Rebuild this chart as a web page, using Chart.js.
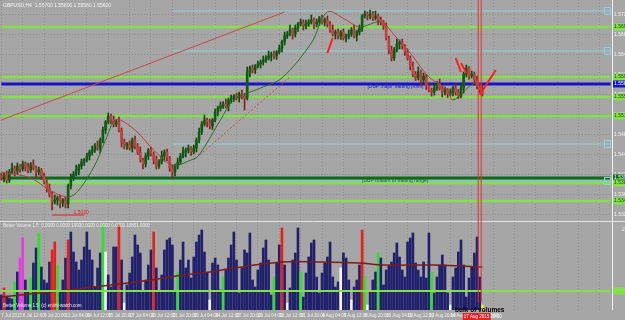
<!DOCTYPE html>
<html>
<head>
<meta charset="utf-8">
<script src="https://cdn.jsdelivr.net/npm/chart.js@4.4.1/dist/chart.umd.min.js"></script>
<style>
html, body { margin: 0; padding: 0; background: #a6a6a6; width: 625px; height: 320px; overflow: hidden; }
canvas { display: block; }
</style>
</head>
<body>
<canvas id="priceChart" width="625" height="221"></canvas>
<canvas id="volumeChart" width="625" height="99"></canvas>
<script>
// GBPUSD H4, 7 Jul - 17 Aug 2015, with Better Volume below
const SLOTS = 229;
const cursorBar = 179;

const tickLabels = ['7 Jul 2015', '8 Jul 12:00', '9 Jul 20:00', '13 Jul 04:00', '14 Jul 12:00', '15 Jul 20:00',
  '17 Jul 04:00', '20 Jul 12:00', '21 Jul 20:00', '23 Jul 04:00', '24 Jul 12:00', '27 Jul 20:00',
  '29 Jul 04:00', '30 Jul 12:00', '31 Jul 20:00', '4 Aug 04:00', '5 Aug 12:00', '6 Aug 20:00',
  '10 Aug 04:00', '11 Aug 12:00', '12 Aug 20:00', '14 Aug 04:00', '17 Aug 12:00'];
const priceTicks = [1.532, 1.536, 1.540, 1.544, 1.548, 1.552, 1.556, 1.560, 1.564, 1.568, 1.572];
const volumeTicks = [20000];

const opens = [
  1.5398,1.5394,1.5400,1.5390,1.5406,1.5414,1.5408,1.5418,1.5412,1.5422,
  1.5416,1.5410,1.5420,1.5414,1.5406,1.5410,1.5398,1.5386,1.5374,1.5362,
  1.5346,1.5350,1.5354,1.5344,1.5350,1.5342,1.5378,1.5394,1.5402,1.5410,
  1.5418,1.5426,1.5430,1.5438,1.5446,1.5450,1.5458,1.5454,1.5470,1.5490,
  1.5506,1.5518,1.5510,1.5502,1.5506,1.5490,1.5466,1.5458,1.5462,1.5454,
  1.5470,1.5458,1.5446,1.5430,1.5422,1.5438,1.5450,1.5442,1.5430,1.5418,
  1.5426,1.5438,1.5446,1.5434,1.5414,1.5406,1.5418,1.5426,1.5438,1.5446,
  1.5450,1.5454,1.5446,1.5454,1.5470,1.5486,1.5502,1.5510,1.5506,1.5498,
  1.5510,1.5526,1.5534,1.5538,1.5542,1.5538,1.5550,1.5554,1.5558,1.5554,
  1.5562,1.5558,1.5554,1.5606,1.5614,1.5610,1.5618,1.5622,1.5626,1.5630,
  1.5634,1.5638,1.5642,1.5638,1.5646,1.5654,1.5666,1.5678,1.5682,1.5690,
  1.5682,1.5694,1.5702,1.5706,1.5698,1.5702,1.5706,1.5710,1.5702,1.5706,
  1.5714,1.5706,1.5710,1.5702,1.5690,1.5682,1.5686,1.5678,1.5686,1.5674,
  1.5678,1.5682,1.5690,1.5678,1.5686,1.5694,1.5718,1.5722,1.5718,1.5722,
  1.5714,1.5718,1.5710,1.5706,1.5698,1.5674,1.5650,1.5634,1.5650,1.5662,
  1.5666,1.5658,1.5646,1.5634,1.5618,1.5602,1.5594,1.5606,1.5590,1.5598,
  1.5578,1.5570,1.5566,1.5574,1.5582,1.5574,1.5566,1.5570,1.5562,1.5566,
  1.5574,1.5566,1.5558,1.5574,1.5602,1.5614,1.5598,1.5602,1.5590,1.5578,
  1.5570
];
const highs = [
  1.5404,1.5404,1.5408,1.5411,1.5424,1.5418,1.5424,1.5421,1.5428,1.5426,
  1.5424,1.5425,1.5430,1.5418,1.5416,1.5413,1.5404,1.5390,1.5382,1.5367,
  1.5360,1.5358,1.5360,1.5353,1.5356,1.5382,1.5402,1.5407,1.5420,1.5422,
  1.5432,1.5433,1.5444,1.5450,1.5458,1.5463,1.5468,1.5474,1.5496,1.5509,
  1.5524,1.5522,1.5518,1.5511,1.5516,1.5494,1.5472,1.5465,1.5468,1.5474,
  1.5478,1.5463,1.5456,1.5434,1.5444,1.5453,1.5456,1.5446,1.5438,1.5431,
  1.5448,1.5450,1.5452,1.5437,1.5420,1.5422,1.5434,1.5443,1.5456,1.5454,
  1.5460,1.5457,1.5460,1.5474,1.5494,1.5507,1.5520,1.5514,1.5512,1.5513,
  1.5532,1.5538,1.5546,1.5547,1.5552,1.5554,1.5560,1.5561,1.5564,1.5566,
  1.5570,1.5563,1.5616,1.5618,1.5620,1.5621,1.5628,1.5630,1.5638,1.5639,
  1.5648,1.5646,1.5648,1.5649,1.5660,1.5670,1.5686,1.5687,1.5700,1.5694,
  1.5700,1.5705,1.5712,1.5710,1.5710,1.5711,1.5720,1.5714,1.5712,1.5717,
  1.5720,1.5714,1.5718,1.5707,1.5700,1.5690,1.5692,1.5689,1.5692,1.5682,
  1.5690,1.5695,1.5700,1.5690,1.5700,1.5721,1.5728,1.5726,1.5730,1.5727,
  1.5728,1.5722,1.5716,1.5709,1.5704,1.5678,1.5658,1.5655,1.5672,1.5670,
  1.5672,1.5661,1.5652,1.5638,1.5626,1.5607,1.5616,1.5610,1.5604,1.5601,
  1.5584,1.5574,1.5582,1.5587,1.5592,1.5578,1.5576,1.5573,1.5572,1.5578,
  1.5582,1.5571,1.5584,1.5606,1.5620,1.5617,1.5608,1.5606,1.5598,1.5583,
  1.5580
];
const lows = [
  1.5390,1.5386,1.5384,1.5385,1.5402,1.5398,1.5402,1.5405,1.5408,1.5408,
  1.5404,1.5405,1.5410,1.5396,1.5400,1.5391,1.5382,1.5366,1.5356,1.5330,
  1.5342,1.5340,1.5334,1.5337,1.5334,1.5334,1.5372,1.5389,1.5398,1.5400,
  1.5412,1.5419,1.5426,1.5430,1.5440,1.5445,1.5450,1.5444,1.5464,1.5483,
  1.5502,1.5502,1.5496,1.5497,1.5486,1.5456,1.5452,1.5451,1.5450,1.5446,
  1.5452,1.5441,1.5426,1.5412,1.5416,1.5431,1.5438,1.5422,1.5412,1.5413,
  1.5422,1.5428,1.5428,1.5407,1.5394,1.5398,1.5412,1.5421,1.5434,1.5436,
  1.5444,1.5439,1.5442,1.5446,1.5464,1.5481,1.5498,1.5496,1.5492,1.5491,
  1.5506,1.5518,1.5528,1.5533,1.5534,1.5528,1.5544,1.5547,1.5550,1.5546,
  1.5552,1.5530,1.5550,1.5596,1.5604,1.5603,1.5614,1.5614,1.5620,1.5625,
  1.5630,1.5628,1.5632,1.5631,1.5642,1.5646,1.5660,1.5673,1.5678,1.5672,
  1.5676,1.5687,1.5698,1.5690,1.5692,1.5697,1.5702,1.5692,1.5696,1.5699,
  1.5702,1.5698,1.5696,1.5685,1.5678,1.5672,1.5672,1.5671,1.5670,1.5666,
  1.5672,1.5677,1.5674,1.5668,1.5680,1.5687,1.5714,1.5710,1.5712,1.5709,
  1.5710,1.5700,1.5700,1.5691,1.5670,1.5642,1.5628,1.5629,1.5646,1.5652,
  1.5652,1.5639,1.5630,1.5610,1.5596,1.5589,1.5590,1.5580,1.5584,1.5571,
  1.5566,1.5558,1.5560,1.5569,1.5570,1.5556,1.5560,1.5555,1.5558,1.5558,
  1.5560,1.5553,1.5554,1.5564,1.5596,1.5591,1.5594,1.5582,1.5572,1.5565,
  1.5558
];
const closes = [
  1.5394,1.5400,1.5390,1.5406,1.5414,1.5408,1.5418,1.5412,1.5422,1.5416,
  1.5410,1.5420,1.5414,1.5406,1.5410,1.5398,1.5386,1.5374,1.5362,1.5346,
  1.5350,1.5354,1.5344,1.5350,1.5342,1.5378,1.5394,1.5402,1.5410,1.5418,
  1.5426,1.5430,1.5438,1.5446,1.5450,1.5458,1.5454,1.5470,1.5490,1.5506,
  1.5518,1.5510,1.5502,1.5506,1.5490,1.5466,1.5458,1.5462,1.5454,1.5470,
  1.5458,1.5446,1.5430,1.5422,1.5438,1.5450,1.5442,1.5430,1.5418,1.5426,
  1.5438,1.5446,1.5434,1.5414,1.5406,1.5418,1.5426,1.5438,1.5446,1.5450,
  1.5454,1.5446,1.5454,1.5470,1.5486,1.5502,1.5510,1.5506,1.5498,1.5510,
  1.5526,1.5534,1.5538,1.5542,1.5538,1.5550,1.5554,1.5558,1.5554,1.5562,
  1.5558,1.5554,1.5606,1.5614,1.5610,1.5618,1.5622,1.5626,1.5630,1.5634,
  1.5638,1.5642,1.5638,1.5646,1.5654,1.5666,1.5678,1.5682,1.5690,1.5682,
  1.5694,1.5702,1.5706,1.5698,1.5702,1.5706,1.5710,1.5702,1.5706,1.5714,
  1.5706,1.5710,1.5702,1.5690,1.5682,1.5686,1.5678,1.5686,1.5674,1.5678,
  1.5682,1.5690,1.5678,1.5686,1.5694,1.5718,1.5722,1.5718,1.5722,1.5714,
  1.5718,1.5710,1.5706,1.5698,1.5674,1.5650,1.5634,1.5650,1.5662,1.5666,
  1.5658,1.5646,1.5634,1.5618,1.5602,1.5594,1.5606,1.5590,1.5598,1.5578,
  1.5570,1.5566,1.5574,1.5582,1.5574,1.5566,1.5570,1.5562,1.5566,1.5574,
  1.5566,1.5558,1.5574,1.5602,1.5614,1.5598,1.5602,1.5590,1.5578,1.5570,
  1.5562
];

const volumes = [
  3750,5500,3500,3000,2750,7000,9500,13000,18000,7500,
  4500,8000,11750,15500,19250,10750,7500,6750,12000,15000,
  17000,11250,4500,7500,13000,17500,19500,14500,12000,10000,
  12500,15750,19500,15000,12500,5750,10500,14250,21250,14500,
  8750,5750,15750,15750,21250,12500,1750,6250,9250,13250,
  18750,16250,14250,4500,7500,11250,15000,19500,10500,4500,
  8750,15000,17500,18000,16250,4500,9500,12500,17000,10500,
  12500,8000,13250,17000,18750,20000,14500,9250,2500,11750,
  13000,11250,5000,8250,10000,13000,16250,19500,12500,4250,
  10500,15000,14250,19250,7500,5750,10000,11750,15500,17500,
  12500,3750,8250,11750,16250,20500,11250,1750,5500,12500,
  14250,20500,9500,3250,9250,13250,16750,17500,8250,4250,
  9250,11750,13250,17000,8250,5750,7000,10500,14250,13000,
  7500,2500,5750,7500,11250,20000,8250,1250,4500,7500,
  9500,14250,13000,6250,10000,11000,12000,14250,16750,13250,
  10000,8250,17000,18000,19250,11750,10000,8250,12000,8000,
  19250,9500,4250,8250,11250,13750,11250,4250,1250,8250,
  10500,14500,17500,11250,3250,8000,10750,14250,18250,8250,
  1250
];
// Better Volume bar types (all other bars are normal)
const climaxBars = [1, 19, 20, 25, 44, 57, 105, 135];
const churnBars = [5, 11, 14, 21, 38, 66, 83, 102, 112, 136, 141, 161];
const climaxChurnBars = [7, 8];
const climaxDownBars = [39, 46, 78, 107, 127, 131, 137, 168];
const lowVolumeBars = [180];
const volMaBars = [0, 25, 41, 56, 68, 78, 87, 105, 118, 134, 143, 162, 180];
const volMaValues = [3250, 5000, 6250, 7500, 8750, 9500, 10500, 12000, 12000, 11750, 11250, 11250, 10750];
const volumeLevel = 4750;

const maBars = [0, 11, 18, 25, 29, 35, 39, 43, 50, 57, 64, 71, 74, 82, 87, 97, 105, 116, 122, 129, 134, 142, 147, 153, 160, 167, 169, 177, 180];
const maPrices = [1.5406, 1.5394, 1.5370, 1.5356, 1.5370, 1.5420, 1.5470, 1.5510, 1.5490, 1.5450, 1.5420, 1.5430, 1.5440, 1.5510, 1.5550,
  1.5574, 1.5594, 1.5664, 1.5726, 1.5710, 1.5696, 1.5706, 1.5680, 1.5644, 1.5596, 1.5570, 1.5550, 1.5584, 1.5578];

const levelPrices = [1.5728, 1.5696, 1.5648, 1.5596, 1.5582, 1.5556, 1.5518, 1.5462, 1.5394, 1.5388, 1.5384, 1.5348];
const levelKinds = ['cyan', 'green', 'cyan', 'green', 'blue', 'green', 'green', 'cyan', 'dark', 'cyan', 'green', 'green'];
const levelStartBars = [64, 0, 64, 0, 0, 0, 0, 64, 0, 0, 0, 0];

const trendBars = [0, 106];
const trendPrices = [1.5510, 1.5726];
const dotTrendBars = [72, 108];
const dotTrendPrices = [1.5430, 1.5596];
const strokeBars = [[122, 124], [170, 172], [172, 174], [179, 185]];
const strokePrices = [[1.5644, 1.5674], [1.5634, 1.5606], [1.5624, 1.5604], [1.5560, 1.5610]];
const lowMarkBars = [19, 31];
const lowMarkPrice = 1.5320;

const noteTexts = ['[DBP major trading point]', '[DBP bottom of trading range]', '1.5330'];
const noteBars = [137, 135, 27];
const notePrices = [1.5576, 1.5389, 1.5324];
const noteColors = ['#1a1ad0', '#0d6a12', '#e02020'];

const levelStyle = {
  green: { color: '#84e048', width: 2.5 },
  blue: { color: '#1414c8', width: 3 },
  dark: { color: '#0b6b18', width: 3 },
  cyan: { color: '#8ad6de', width: 1 }
};

const FONT = '"Liberation Sans", Arial, sans-serif';
const GRID = '#8c8c8c';
const slots = Array.from({ length: SLOTS }, (_, i) => i);

function gridX(c) { return c.index % 8 === 0 ? GRID : 'rgba(0,0,0,0)'; }
function line(points, color, width, extra) {
  return Object.assign({ type: 'line', data: points, borderColor: color, borderWidth: width,
    pointRadius: 0, fill: false, order: 5 }, extra || {});
}
function pts(bars, vals) { return bars.map((b, i) => ({ x: b, y: vals[i] })); }

const priceSets = [];
levelPrices.forEach((p, i) => {
  const st = levelStyle[levelKinds[i]];
  priceSets.push(line([{ x: levelStartBars[i], y: p }, { x: SLOTS - 1, y: p }], st.color, st.width, { order: 10 }));
});
priceSets.push(line(pts(trendBars, trendPrices), '#c84848', 1));
priceSets.push(line(pts(dotTrendBars, dotTrendPrices), '#c84848', 1, { borderDash: [2, 2] }));
strokeBars.forEach((b, i) => priceSets.push(line(pts(b, strokePrices[i]), '#ff1c1c', 2, { order: 0 })));
priceSets.push(line(pts(lowMarkBars, [lowMarkPrice, lowMarkPrice]), '#e02020', 1));
priceSets.push(line(pts(maBars, maPrices), '#2a6e2a', 1, {
  order: 0, tension: 0.35,
  segment: { borderColor: c => c.p1.parsed.y >= c.p0.parsed.y ? '#2a6e2a' : '#b83c3c' }
}));
const bull = opens.map((o, i) => closes[i] >= o);
priceSets.push({ type: 'bar', data: lows.map((l, i) => [l, highs[i]]), grouped: false, barThickness: 1, order: 2,
  backgroundColor: bull.map(b => b ? '#0a4a0a' : '#8a1e1e') });
priceSets.push({ type: 'bar', data: opens.map((o, i) => [o, closes[i]]), grouped: false, barThickness: 2, minBarLength: 1, order: 1,
  backgroundColor: bull.map(b => b ? '#0e5c12' : '#c04040') });

const priceDecor = {
  id: 'priceDecor',
  afterDatasetsDraw(chart) {
    const { ctx, chartArea: a, scales: { x, y } } = chart;
    ctx.save();
    ctx.lineWidth = 1;
    ctx.strokeStyle = '#f0f0f0';
    ctx.beginPath(); ctx.moveTo(a.right + 0.5, 0); ctx.lineTo(a.right + 0.5, chart.height); ctx.stroke();
    const vx = x.getPixelForValue(cursorBar);
    ctx.strokeStyle = '#e23030';
    [-1.5, 1.5].forEach(d => { ctx.beginPath(); ctx.moveTo(vx + d, 0); ctx.lineTo(vx + d, chart.height); ctx.stroke(); });
    // price tags on the right axis
    ctx.font = '5px ' + FONT;
    ctx.textBaseline = 'middle';
    levelPrices.forEach((p, i) => {
      const st = levelStyle[levelKinds[i]];
      const py = y.getPixelForValue(p);
      if (levelKinds[i] === 'cyan') {
        ctx.strokeStyle = st.color;
        ctx.strokeRect(a.right - 7.5, py - 3.5, 6, 7);
        return;
      }
      ctx.fillStyle = st.color;
      ctx.fillRect(a.right + 1, py - 3.5, 12, 7);
      ctx.fillStyle = levelKinds[i] === 'green' ? '#1a3a1a' : '#ffffff';
      ctx.fillText(p.toFixed(4), a.right + 2, py);
    });
    noteTexts.forEach((t, i) => {
      ctx.fillStyle = noteColors[i];
      ctx.fillText(t, x.getPixelForValue(noteBars[i]), y.getPixelForValue(notePrices[i]));
    });
    ctx.font = '5px ' + FONT;
    ctx.fillStyle = '#f4f4f4';
    ctx.textBaseline = 'top';
    ctx.fillText('GBPUSD,H4  1.55700 1.55800 1.55580 1.55620', 3, 3);
    ctx.restore();
  }
};

new Chart(document.getElementById('priceChart'), {
  type: 'bar',
  data: { labels: slots, datasets: priceSets },
  options: {
    responsive: false, animation: false, devicePixelRatio: 1,
    layout: { padding: 0 },
    plugins: { legend: { display: false }, tooltip: { enabled: false } },
    scales: {
      x: {
        offset: true,
        grid: { offset: false, color: gridX, drawTicks: false },
        border: { display: false, dash: [1, 2] },
        ticks: { display: false },
        afterFit(s) { s.height = 0; s.paddingLeft = 0; s.paddingRight = 0; }
      },
      y: {
        position: 'right', min: 1.5308, max: 1.5750,
        afterBuildTicks(s) { s.ticks = priceTicks.map(v => ({ value: v })); },
        ticks: { font: { size: 5, family: FONT }, color: '#f2f2f2', padding: 2, callback: v => v.toFixed(5) },
        grid: { color: GRID, drawTicks: false },
        border: { display: false, dash: [1, 2] },
        afterFit(s) { s.width = 13; s.paddingTop = 0; s.paddingBottom = 0; }
      }
    }
  },
  plugins: [priceDecor]
});

function volumeColor(i) {
  if (climaxBars.includes(i)) return '#e8201c';
  if (churnBars.includes(i)) return '#2ee02e';
  if (climaxChurnBars.includes(i)) return '#e040e0';
  if (climaxDownBars.includes(i)) return '#f4f4f4';
  if (lowVolumeBars.includes(i)) return '#f0f000';
  return '#20206c';
}

const volumeDecor = {
  id: 'volumeDecor',
  afterDatasetsDraw(chart) {
    const { ctx, chartArea: a, scales: { x, y } } = chart;
    ctx.save();
    ctx.lineWidth = 1;
    ctx.strokeStyle = '#e6e6e6';
    ctx.beginPath(); ctx.moveTo(0, 0.5); ctx.lineTo(chart.width, 0.5); ctx.stroke();
    ctx.strokeStyle = '#f0f0f0';
    ctx.beginPath(); ctx.moveTo(a.right + 0.5, 0); ctx.lineTo(a.right + 0.5, a.bottom); ctx.stroke();
    const vx = x.getPixelForValue(cursorBar);
    ctx.strokeStyle = '#e23030';
    [-1.5, 1.5].forEach(d => { ctx.beginPath(); ctx.moveTo(vx + d, 0); ctx.lineTo(vx + d, a.bottom - 8); ctx.stroke(); });
    const gy = y.getPixelForValue(volumeLevel);
    ctx.fillStyle = '#84e048';
    ctx.fillRect(a.right + 1, gy - 3.5, 12, 7);
    ctx.font = '4.5px ' + FONT;
    ctx.textBaseline = 'top';
    ctx.fillStyle = '#ececec';
    ctx.fillText('Better Volume 1.5  0.0000 0.0000 10930.0000 0.0000 0.0000 10851.0000', 3, 3);
    ctx.fillText('Better Volume 1.5  (c) emini-watch.com', 3, a.bottom - 6);
    ctx.fillStyle = '#e82020';
    ctx.fillRect(vx - 17, a.bottom + 3, 28, 7);
    ctx.fillStyle = '#ffffff';
    ctx.fillText('17 Aug 2015 20:00', vx - 16, a.bottom + 4.5);
    ctx.font = 'bold 6.5px ' + FONT;
    ctx.fillStyle = '#000000';
    ctx.textBaseline = 'middle';
    ctx.fillText('bulk of volumes', 455, a.bottom);
    ctx.restore();
  }
};

new Chart(document.getElementById('volumeChart'), {
  type: 'bar',
  data: {
    labels: slots,
    datasets: [
      line([{ x: 0, y: volumeLevel }, { x: SLOTS - 1, y: volumeLevel }], '#84e048', 2, { order: 0 }),
      line(pts(volMaBars, volMaValues), '#7a1c1c', 1.5, { order: 1, tension: 0.35 }),
      { type: 'bar', data: volumes, barThickness: 2, order: 2, backgroundColor: volumes.map((v, i) => volumeColor(i)) }
    ]
  },
  options: {
    responsive: false, animation: false, devicePixelRatio: 1,
    layout: { padding: { top: 1, left: 0, right: 0, bottom: 0 } },
    plugins: { legend: { display: false }, tooltip: { enabled: false } },
    scales: {
      x: {
        offset: true,
        grid: { offset: false, color: gridX, drawTicks: false },
        border: { display: false, dash: [1, 2] },
        ticks: {
          autoSkip: false, maxRotation: 0, minRotation: 0, align: 'start', padding: 3,
          font: { size: 4.5, family: FONT }, color: '#f2f2f2',
          callback: (v, i) => (i % 8 === 0 && tickLabels[i / 8]) ? tickLabels[i / 8] : ''
        },
        afterFit(s) { s.height = 10; s.paddingLeft = 0; s.paddingRight = 0; }
      },
      y: {
        position: 'right', min: 0, max: 22000,
        afterBuildTicks(s) { s.ticks = volumeTicks.map(v => ({ value: v })); },
        ticks: { font: { size: 5, family: FONT }, color: '#f2f2f2', padding: 2 },
        grid: { display: false },
        border: { display: false },
        afterFit(s) { s.width = 13; s.paddingTop = 0; s.paddingBottom = 0; }
      }
    }
  },
  plugins: [volumeDecor]
});
</script>
</body>
</html>
